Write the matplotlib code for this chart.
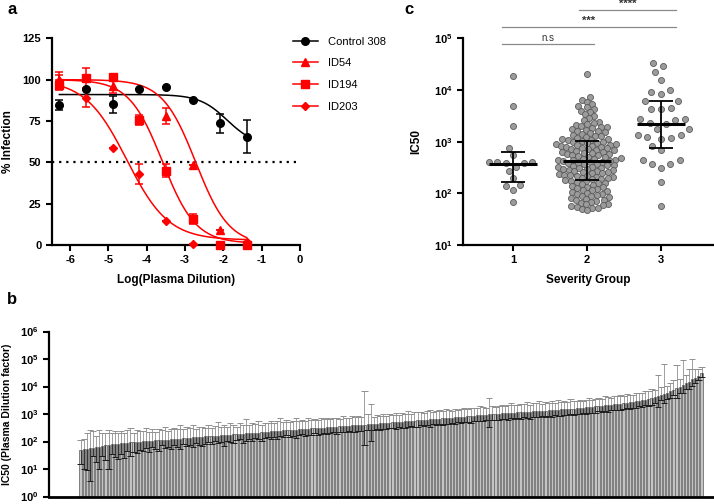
import numpy as np
import matplotlib
matplotlib.use('Agg')
import matplotlib.pyplot as plt
import matplotlib.transforms as mtransforms
from matplotlib.lines import Line2D

plt.rcParams['font.family'] = ['Liberation Sans', 'DejaVu Sans']
plt.rcParams['mathtext.fontset'] = 'custom'
plt.rcParams['mathtext.bf'] = 'Liberation Sans:bold'
plt.rcParams['mathtext.rm'] = 'Liberation Sans'
plt.rcParams['axes.unicode_minus'] = False

# ---- panel a: neutralisation curves ----
log_dil = [-6.28, -5.58, -4.88, -4.19, -3.49, -2.79, -2.09, -1.39]
series_names = ['Control 308', 'ID54', 'ID194', 'ID203']
nan = np.nan
ctrl_val = [84.5, 94.5, 85.0, 94.5, 95.5, 87.5, 73.5, 65.5]
ctrl_err = [3, 0, 5, 0, 0, 0, 6, 10]
id54_val = [99.8, nan, 96.2, nan, 78.0, 48.4, 9.0, 1.0]
id54_err = [3, 0, 4, 0, 5, 0, 0, 0]
id194_val = [96.8, 100.8, 101.4, 75.6, 45.0, 15.5, 0.0, 0.0]
id194_err = [3, 6, 1, 3, 4, 3, 0, 0]
id203_val = [99.4, 88.7, 58.9, 43.0, 14.7, 0.6, nan, 1.6]
id203_err = [5, 5, 0, 6, 0, 0, 0, 0]
# 4PL fit parameters: top, bottom, logIC50, hill
ctrl_fit = [91, 60, -1.9, 1.2]
id54_fit = [100, 0, -2.72, 1.0]
id194_fit = [100, 1, -3.59, 1.0]
id203_fit = [100, 3, -4.52, 0.8]

# ---- panel c: IC50 by severity group ----
groups = ['1', '2', '3']
g1 = [18500, 4800, 2050, 760, 540, 410, 402, 396, 390, 384, 325, 270, 195, 142, 138, 115, 67]
g2 = [20500,
      7200, 6500, 5900, 5300, 4900, 4600, 4300, 4000,
      3700, 3400, 3100, 2850, 2650, 2450, 2300, 2200, 2100, 2000,
      1950, 1880, 1820, 1760, 1700, 1640, 1580, 1520, 1460, 1400, 1350, 1300, 1260, 1220, 1180, 1150, 1120, 1090, 1060,
      1030, 1000, 980, 950, 930, 900, 890, 880, 860, 840, 820, 800, 780, 760, 740, 720, 710, 700, 680, 660,
      640, 620, 610, 600, 585, 570, 555, 540, 525, 510, 495, 480, 470, 460, 450, 440, 435,
      430, 420, 410, 400, 390, 381, 372, 363, 354, 346, 338, 330, 322, 314, 307, 300, 293, 286, 279, 272,
      266, 260, 254, 248, 242, 236, 231, 225, 220, 215, 210, 205, 200, 195, 190, 186, 181, 177,
      172, 166, 160, 155, 150, 145, 140, 135, 130, 126, 122, 118, 114, 110, 106, 102, 99, 96, 93, 90,
      87, 84, 81, 78, 75, 73, 70, 68, 66, 63, 61, 59, 57, 55, 53, 52, 50, 48]
g3 = [34000, 29000, 22000, 15500, 10000, 9100, 8500, 6200, 6100, 4500, 4300, 4200, 2800, 2700, 2600,
      2300, 2200, 1760, 1740, 1350, 1340, 1230, 1180, 1150, 830, 690, 450, 440, 375, 365, 310, 167, 57]
grp_med = [370, 430, 2200]
grp_lo = [165, 180, 760]
grp_hi = [620, 1050, 6150]

# ---- panel b: IC50 per patient (sorted) ----
b_vals = [48, 52, 55, 57, 60, 62, 65, 68, 72, 74, 78, 80, 83, 85, 87, 90, 92, 95, 97, 100,
          101, 103, 105, 107, 110, 112, 114, 116, 118, 120, 123, 125, 128, 131, 134, 137, 140, 143, 146, 149,
          152, 155, 158, 161, 164, 167, 170, 173, 176, 180, 184, 188, 192, 196, 200, 204, 208, 212, 217, 222,
          228, 233, 238, 243, 248, 253, 258, 263, 268, 273, 278, 283, 288, 293, 298, 303, 309, 315, 321, 327,
          333, 340, 347, 354, 361, 368, 375, 382, 390, 398, 406, 414, 422, 430, 440, 450, 460, 470, 480, 490,
          500, 510, 520, 530, 541, 552, 563, 575, 587, 599, 611, 623, 636, 649, 662, 675, 690, 705, 720, 735,
          750, 770, 790, 810, 830, 850, 870, 890, 910, 930, 950, 970, 990, 1010, 1030, 1050, 1070, 1090, 1110, 1130,
          1150, 1170, 1190, 1210, 1230, 1250, 1270, 1290, 1310, 1330, 1350, 1370, 1400, 1430, 1460, 1490, 1520, 1550, 1580, 1610,
          1650, 1700, 1750, 1800, 1850, 1900, 1950, 2000, 2060, 2120, 2180, 2250, 2320, 2400, 2480, 2560, 2650, 2750, 2850, 2950,
          3100, 3300, 3500, 3800, 4100, 4500, 5000, 5500, 6000, 6800, 7600, 8500, 10000, 11500, 13000, 15000, 18000, 21000, 25000, 30000]
# upper / lower error as multiples of the bar value
b_up = [2.3, 2.4, 3.6, 4.5, 4.0, 2.6, 3.9, 3.0, 2.8, 3.4, 2.7, 3.1, 2.5, 2.9, 2.4, 2.8, 3.4, 2.2, 2.6, 2.5,
        2.4, 2.9, 2.2, 2.7, 2.1, 2.5, 2.3, 2.8, 2.0, 2.4, 2.6, 2.2, 3.0, 2.1, 2.5, 2.3, 2.9, 2.0, 2.4, 2.2,
        2.1, 2.6, 2.0, 2.3, 3.2, 2.1, 2.4, 2.0, 2.7, 2.2, 1.9, 2.5, 2.1, 3.5, 2.0, 2.3, 2.1, 2.6, 1.9, 2.2,
        2.0, 2.4, 1.9, 2.2, 2.9, 2.0, 2.3, 1.9, 2.1, 2.6, 2.0, 2.2, 1.9, 2.4, 2.0, 2.1, 1.9, 2.3, 2.0, 2.2,
        1.9, 2.1, 2.0, 1.8, 2.3, 2.0, 1.9, 2.2, 2.0, 2.1, 1.9, 16.0, 2.4, 5.5, 1.8, 2.0, 1.9, 2.1, 1.8, 2.0,
        1.9, 2.2, 1.8, 2.0, 1.9, 2.3, 1.8, 2.0, 2.1, 1.9, 1.8, 2.0, 2.2, 1.8, 1.9, 2.0, 1.8, 2.1, 1.9, 1.8,
        2.0, 1.8, 1.9, 2.1, 1.8, 2.0, 1.9, 1.8, 2.2, 1.9, 1.8, 4.0, 2.0, 1.8, 1.9, 2.1, 1.8, 2.0, 2.3, 1.9,
        1.8, 2.0, 1.9, 2.2, 1.8, 2.0, 1.9, 2.4, 1.8, 2.0, 1.9, 2.1, 1.8, 2.3, 1.9, 2.0, 1.8, 2.2, 1.9, 1.8,
        2.0, 1.8, 1.9, 2.1, 1.8, 1.9, 2.0, 1.8, 2.2, 1.9, 1.8, 2.0, 1.9, 2.1, 1.8, 2.0, 1.9, 1.8, 2.0, 1.9,
        1.8, 2.0, 1.9, 2.2, 1.8, 6.0, 1.9, 12.0, 1.8, 2.0, 2.2, 7.0, 1.9, 8.0, 2.0, 3.0, 5.5, 2.0, 1.8, 1.7]
b_lo = [0.32, 0.2, 0.17, 0.065, 0.5, 0.28, 0.15, 0.42, 0.3, 0.13, 0.45, 0.35, 0.27, 0.4, 0.3, 0.5, 0.33, 0.45, 0.4, 0.5,
        0.45, 0.55, 0.4, 0.6, 0.5, 0.42, 0.65, 0.5, 0.55, 0.45, 0.6, 0.5, 0.4, 0.62, 0.5, 0.55, 0.45, 0.6, 0.52, 0.48,
        0.55, 0.6, 0.5, 0.65, 0.52, 0.58, 0.4, 0.62, 0.55, 0.5, 0.6, 0.65, 0.45, 0.55, 0.6, 0.5, 0.62, 0.58, 0.5, 0.6,
        0.65, 0.55, 0.6, 0.5, 0.62, 0.58, 0.65, 0.55, 0.6, 0.5, 0.62, 0.66, 0.55, 0.6, 0.58, 0.65, 0.55, 0.6, 0.62, 0.58,
        0.6, 0.65, 0.55, 0.62, 0.6, 0.58, 0.66, 0.6, 0.55, 0.62, 0.6, 0.18, 0.62, 0.25, 0.6, 0.65, 0.58, 0.62, 0.6, 0.65,
        0.62, 0.58, 0.65, 0.6, 0.55, 0.62, 0.66, 0.6, 0.58, 0.64, 0.6, 0.62, 0.55, 0.65, 0.6, 0.62, 0.58, 0.64, 0.6, 0.62,
        0.6, 0.65, 0.58, 0.62, 0.6, 0.55, 0.64, 0.6, 0.62, 0.58, 0.65, 0.35, 0.6, 0.62, 0.58, 0.64, 0.6, 0.55, 0.62, 0.6,
        0.62, 0.58, 0.64, 0.6, 0.55, 0.62, 0.6, 0.58, 0.65, 0.6, 0.62, 0.56, 0.64, 0.6, 0.58, 0.62, 0.6, 0.65, 0.58, 0.62,
        0.6, 0.64, 0.58, 0.62, 0.6, 0.55, 0.65, 0.6, 0.62, 0.58, 0.64, 0.6, 0.62, 0.58, 0.6, 0.65, 0.58, 0.62, 0.6, 0.64,
        0.6, 0.62, 0.58, 0.55, 0.6, 0.4, 0.62, 0.45, 0.6, 0.58, 0.62, 0.45, 0.6, 0.5, 0.62, 0.55, 0.6, 0.65, 0.7, 0.75]

W, H = 714, 504
fig = plt.figure(figsize=(W / 100, H / 100), dpi=100)


def px_axes(l, t, r, b):
    return fig.add_axes([l / W, 1 - b / H, (r - l) / W, (b - t) / H])


def style_axes(ax):
    for s in ['top', 'right']:
        ax.spines[s].set_visible(False)
    for s in ['left', 'bottom']:
        ax.spines[s].set_linewidth(1.6)
    ax.tick_params(width=1.5, length=4, labelsize=8)
    for lab in ax.get_xticklabels() + ax.get_yticklabels():
        lab.set_fontweight('bold')


def pow_labels(exps):
    return [r'$\mathbf{10^{%d}}$' % e for e in exps]


def four_pl(x, p):
    top, bottom, c, h = p
    return bottom + (top - bottom) / (1 + 10 ** (h * (x - c)))


def swarm_offsets(values, dmin, px_per_decade):
    # simple beeswarm: horizontal pixel offsets so that points keep dmin apart
    y = np.log10(np.asarray(values, dtype=float)) * px_per_decade
    offs = np.zeros(len(y))
    px, py = [], []
    for i in np.argsort(y):
        blocks, cands = [], [0.0]
        for xj, yj in zip(px, py):
            dy = abs(y[i] - yj)
            if dy < dmin:
                dx = np.sqrt(dmin ** 2 - dy ** 2)
                blocks.append((xj - dx, xj + dx))
                cands += [xj - dx, xj + dx]
        for c in sorted(cands, key=abs):
            if all(not (a + 1e-6 < c < b - 1e-6) for a, b in blocks):
                offs[i] = c
                break
        px.append(offs[i])
        py.append(y[i])
    return offs


# ---------------- panel a ----------------
axa = px_axes(51.7, 38.3, 300, 245)
x = np.array(log_dil)
xs = np.linspace(x[0], x[-1], 300)
specs = [
    (ctrl_val, ctrl_err, ctrl_fit, 'black', 'o', 5.5),
    (id54_val, id54_err, id54_fit, 'red', '^', 6),
    (id194_val, id194_err, id194_fit, 'red', 's', 5.5),
    (id203_val, id203_err, id203_fit, 'red', 'D', 4.5),
]
handles = []
for (vals, errs, fit, col, mk, ms), name in zip(specs, series_names):
    axa.plot(xs, four_pl(xs, fit), color=col, lw=1.1, zorder=2)
    axa.errorbar(x, vals, yerr=errs, fmt=mk, color=col, ms=ms, capsize=3,
                 elinewidth=1.1, capthick=1.1, zorder=3, clip_on=False)
    handles.append(Line2D([], [], color=col, marker=mk, ms=ms, lw=1.1))
axa.axhline(50, color='black', ls=(0, (1, 2.2)), lw=1.6, zorder=1)
axa.set_xlim(-6.48, 0)
axa.set_ylim(0, 125)
axa.set_xticks([-6, -5, -4, -3, -2, -1, 0])
axa.set_yticks([0, 25, 50, 75, 100, 125])
axa.set_xlabel('Log(Plasma Dilution)', fontsize=8.5, fontweight='bold', labelpad=6)
axa.set_ylabel('% Infection', fontsize=8.5, fontweight='bold', labelpad=6)
style_axes(axa)
axa.legend(handles, series_names, loc='upper left', bbox_to_anchor=(0.955, 1.03),
           frameon=False, fontsize=8, handlelength=2.2, handletextpad=0.9,
           labelspacing=1.05, borderaxespad=0)

# ---------------- panel c ----------------
c_left, c_right, c_top, c_bot = 462.7, 713, 38.3, 245
axc = px_axes(c_left, c_top, c_right, c_bot)
axc.set_yscale('log')
c_xlim = (0.32, 3.7)
px_per_unit = (c_right - c_left) / (c_xlim[1] - c_xlim[0])
px_per_decade = (c_bot - c_top) / 4
pos = np.arange(1, len(groups) + 1)
for p, g, dmin in zip(pos, [g1, g2, g3], [8.5, 5.5, 10.0]):
    off = swarm_offsets(g, dmin, px_per_decade) / px_per_unit
    axc.scatter(p + off, g, s=19, color='#9b9b9b', edgecolor='#5a5a5a',
                linewidth=0.6, zorder=2)
axc.hlines(grp_med, pos - 0.32, pos + 0.32, color='black', lw=2.2, zorder=5)
axc.vlines(pos, grp_lo, grp_hi, color='black', lw=1.3, zorder=5)
axc.hlines(grp_lo, pos - 0.16, pos + 0.16, color='black', lw=1.3, zorder=5)
axc.hlines(grp_hi, pos - 0.16, pos + 0.16, color='black', lw=1.3, zorder=5)
axc.set_xlim(*c_xlim)
axc.set_ylim(10, 1e5)
axc.set_xticks(pos)
axc.set_xticklabels(groups)
axc.set_yticks([10 ** e for e in range(1, 6)])
axc.set_yticklabels(pow_labels(range(1, 6)))
axc.minorticks_off()
axc.set_xlabel('Severity Group', fontsize=8.5, fontweight='bold', labelpad=6)
axc.set_ylabel('IC50', fontsize=8.5, fontweight='bold', labelpad=8)
style_axes(axc)

# significance brackets
tr = mtransforms.blended_transform_factory(axc.transData, axc.transAxes)
brackets = [(0.85, 2.09, 0.971, 'n.s', 'normal', 7),
            (0.85, 3.2, 1.053, '***', 'bold', 8),
            (1.89, 3.2, 1.137, '****', 'bold', 8)]
for x0, x1, yy, txt, fw, fs in brackets:
    axc.plot([x0, x1], [yy, yy], color='#8a8a8a', lw=0.9, transform=tr, clip_on=False)
    axc.text((x0 + x1) / 2, yy + 0.005, txt, transform=tr, ha='center', va='bottom',
             fontsize=fs, fontweight=fw, color='#333333')

# ---------------- panel b ----------------
axb = px_axes(49.3, 331.5, 714, 496.5)
vals = np.array(b_vals, dtype=float)
idx = np.arange(len(vals))
hi = vals * np.array(b_up)
lo = vals * np.array(b_lo)
axb.bar(idx, vals, width=0.7, color='#c4c4c4', edgecolor='#6f6f6f', linewidth=0.6, zorder=2)
axb.vlines(idx, vals, hi, color='#8f8f8f', lw=0.6, zorder=3)
axb.hlines(hi, idx - 1.0, idx + 1.0, color='#8f8f8f', lw=0.7, zorder=3)
axb.vlines(idx, lo, vals, color='#1a1a1a', lw=0.6, zorder=3)
axb.hlines(lo, idx - 1.0, idx + 1.0, color='#1a1a1a', lw=0.7, zorder=3)
axb.set_yscale('log')
axb.set_ylim(1, 1e6)
axb.set_xlim(-10, 203)
axb.set_yticks([10 ** e for e in range(0, 7)])
axb.set_yticklabels(pow_labels(range(0, 7)))
axb.minorticks_off()
axb.set_xticks([])
axb.set_ylabel('IC50 (Plasma Dilution factor)', fontsize=7.5, fontweight='bold', labelpad=6)
style_axes(axb)
axb.spines['bottom'].set_linewidth(2.0)

# panel letters
for letter, (lx, ly) in zip('acb', [(12, 10), (409, 10), (12, 299)]):
    fig.text(lx / W, 1 - ly / H, letter, fontsize=12, fontweight='bold', ha='center', va='center')

fig.savefig('out.png', dpi=100)
